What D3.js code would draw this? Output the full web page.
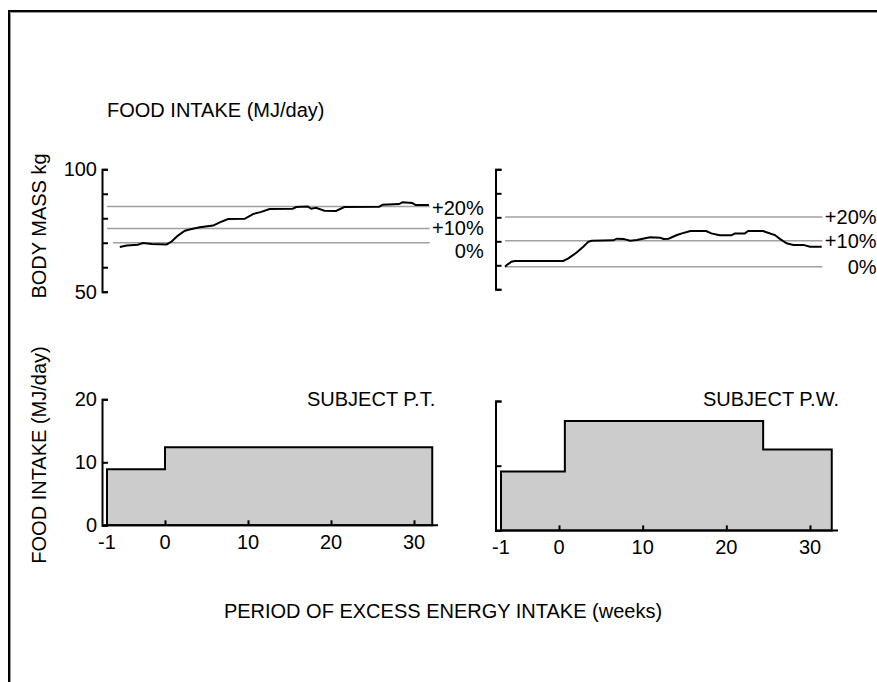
<!DOCTYPE html>
<html>
<head>
<meta charset="utf-8">
<script src="https://d3js.org/d3.v7.min.js"></script>
<style>
  body { margin: 0; background: #fff; }
  svg text { font-family: "Liberation Sans", Arial, sans-serif; font-size: 20px; fill: #000; }
</style>
</head>
<body>
<svg id="chart" width="877" height="682"></svg>
<script>
// tick values shared by both subjects
const weekTicks = [-1, 0, 10, 20, 30];
const massTicks = [50, 60, 70, 80, 90, 100];
const massLabels = [50, 100];
const intakeTicks = [0, 10, 20];
const intakeLabels = [0, 10, 20];
const refLabels = ["0%", "+10%", "+20%"];

// subject P.T. (left)
const weeksPT = [-0.78, -0.66, -0.47, -0.38, -0.23, 0.2, 0.8, 1.56, 2.4, 3.2, 4.2, 5.8, 6.6, 7.6, 9.6, 10.6,
  11.6, 12.6, 15.4, 15.8, 17.2, 17.6, 18.2, 19.2, 20.6, 21.6, 25.8, 26.2, 28.2, 28.6, 29.8, 30.2, 31.8];
const massPT = [68.3, 68.9, 69.2, 69.9, 69.5, 69.3, 70.5, 72.9, 74.9, 75.6, 76.3, 77.0, 78.3, 79.7, 79.8, 81.7,
  82.6, 83.8, 83.9, 84.6, 84.8, 83.9, 84.3, 83.1, 83.0, 84.6, 84.7, 85.5, 85.8, 86.5, 86.2, 85.4, 85.4];
const refPT = [70, 75.8, 84.8];
const stepWeeksPT = [-1, 0, 32.2];
const intakePT = [8.9, 12.4];

// subject P.W. (right)
const weeksPW = [-0.93, -0.9, -0.82, -0.76, 0.51, 1.11, 2.11, 2.9, 3.5, 3.9, 6.5, 6.9, 7.7, 8.5, 9.3, 10.3,
  10.9, 12.1, 12.5, 13.1, 14.1, 14.7, 15.7, 17.6, 18.2, 19.2, 20.6, 21.0, 22.2, 22.6, 24.4, 24.8, 25.8,
  26.4, 27.2, 28.0, 29.2, 30.0, 31.4];
const massPW = [59.4, 60.1, 61.5, 61.8, 61.8, 62.9, 65.3, 67.75, 69.8, 70.25, 70.4, 71.1, 71.0, 70.25, 70.5, 71.25,
  71.7, 71.5, 71.0, 71.1, 72.6, 73.3, 74.3, 74.3, 73.3, 72.5, 72.5, 73.2, 73.2, 74.3, 74.3, 73.75, 72.6,
  71.0, 69.2, 68.5, 68.5, 67.75, 67.75];
const refPW = [59.4, 70.25, 80.1];
const stepWeeksPW = [-1, 0.7, 24.4, 32.6];
const intakePW = [9.1, 16.9, 12.5];

const svg = d3.select("#chart");

// page frame
svg.append("path")
  .attr("d", "M9,682V11H877")
  .attr("fill", "none")
  .attr("stroke", "#000")
  .attr("stroke-width", 2);
svg.append("path")
  .attr("d", "M10.5,682V12.5H877")
  .attr("fill", "none")
  .attr("stroke", "#999")
  .attr("stroke-width", 1);

const panels = [
  {
    name: "SUBJECT P.T.", weeks: weeksPT, mass: massPT, ref: refPT,
    stepWeeks: stepWeeksPT, intake: intakePT,
    axisX: 102, xRange: [107, 165, 414], axisEnd: 438,
    massRange: [291.7, 169.3], intakeRange: [525.3, 399.3],
    refSpan: [[-0.9, 31.9], [-1, 31.9], [-1, 31.9]], labelDy: [8, -1, 1],
    showLabels: true, nameX: 307
  },
  {
    name: "SUBJECT P.W.", weeks: weeksPW, mass: massPW, ref: refPW,
    stepWeeks: stepWeeksPW, intake: intakePW,
    axisX: 495.5, xRange: [501, 559, 810], axisEnd: 838,
    massRange: [289.3, 169.3], intakeRange: [530.4, 401],
    refSpan: [[-0.93, 31.5], [-0.93, 31.5], [-0.93, 31.5]], labelDy: [0, 0, 0],
    showLabels: false, nameX: 703
  }
];

const axisStyle = (g) => {
  g.select(".domain").attr("stroke", "#000").attr("stroke-width", 2);
  g.selectAll(".tick line").attr("stroke", "#000").attr("stroke-width", 2);
  g.selectAll(".tick text").remove();
};

panels.forEach((p) => {
  const x = d3.scaleLinear().domain([-1, 0, 30]).range(p.xRange);
  const yMass = d3.scaleLinear().domain([50, 100]).range(p.massRange);
  const yIntake = d3.scaleLinear().domain([0, 20]).range(p.intakeRange);

  // ---- body mass panel ----
  svg.append("g")
    .attr("transform", `translate(${p.axisX},0)`)
    .call(d3.axisRight(yMass).tickValues(massTicks).tickSize(6).tickSizeOuter(6))
    .call(axisStyle);

  if (p.showLabels) {
    svg.append("g").selectAll("text")
      .data(massLabels)
      .join("text")
      .attr("x", p.axisX - 5)
      .attr("y", d => yMass(d))
      .attr("dy", "0.35em")
      .attr("text-anchor", "end")
      .text(d => d);
  }

  const refG = svg.append("g");
  refG.selectAll("line")
    .data(p.ref)
    .join("line")
    .attr("x1", (d, i) => x(p.refSpan[i][0]))
    .attr("x2", (d, i) => x(p.refSpan[i][1]))
    .attr("y1", d => yMass(d))
    .attr("y2", d => yMass(d))
    .attr("stroke", "#a0a0a0")
    .attr("stroke-width", 1.5);
  // labels right-aligned just past the end of the lines
  refG.selectAll("text")
    .data(p.ref)
    .join("text")
    .attr("x", (d, i) => x(p.refSpan[i][1]) + 54)
    .attr("y", (d, i) => yMass(d) + p.labelDy[i])
    .attr("dy", "0.35em")
    .attr("text-anchor", "end")
    .text((d, i) => refLabels[i]);

  const massLine = d3.line()
    .x(d => x(d[0]))
    .y(d => yMass(d[1]));
  svg.append("path")
    .datum(p.weeks.map((w, i) => [w, p.mass[i]]))
    .attr("d", massLine)
    .attr("fill", "none")
    .attr("stroke", "#000")
    .attr("stroke-width", 2);

  // ---- food intake panel ----
  const steps = p.stepWeeks.map((w, i) => [w, p.intake[Math.min(i, p.intake.length - 1)]]);
  const area = d3.area()
    .curve(d3.curveStepAfter)
    .x(d => x(d[0]))
    .y0(yIntake(0))
    .y1(d => yIntake(d[1]));
  svg.append("path")
    .datum(steps)
    .attr("d", area)
    .attr("fill", "#cccccc")
    .attr("stroke", "#000")
    .attr("stroke-width", 2);

  svg.append("g")
    .attr("transform", `translate(${p.axisX},0)`)
    .call(d3.axisRight(yIntake).tickValues(intakeTicks).tickSize(6).tickSizeOuter(6))
    .call(axisStyle);

  if (p.showLabels) {
    svg.append("g").selectAll("text")
      .data(intakeLabels)
      .join("text")
      .attr("x", p.axisX - 5)
      .attr("y", d => yIntake(d))
      .attr("dy", "0.35em")
      .attr("text-anchor", "end")
      .text(d => d);
  }

  // x axis: baseline from the y axis, ticks pointing up
  svg.append("line")
    .attr("x1", p.axisX)
    .attr("x2", p.axisEnd)
    .attr("y1", yIntake(0))
    .attr("y2", yIntake(0))
    .attr("stroke", "#000")
    .attr("stroke-width", 2);
  svg.append("g")
    .attr("transform", `translate(0,${yIntake(0)})`)
    .call(d3.axisTop(x).tickValues(weekTicks.slice(1)).tickSize(5).tickSizeOuter(0))
    .call(axisStyle)
    .call(g => g.select(".domain").remove());

  svg.append("g").selectAll("text")
    .data(weekTicks)
    .join("text")
    .attr("x", d => x(d))
    .attr("y", yIntake(0) + 24)
    .attr("text-anchor", "middle")
    .text(d => d);

  svg.append("text")
    .attr("x", p.nameX)
    .attr("y", 406)
    .text(p.name);
});

// titles
svg.append("text")
  .attr("x", 107)
  .attr("y", 117)
  .text("FOOD INTAKE (MJ/day)");

svg.append("text")
  .attr("transform", "translate(46,226) rotate(-90)")
  .attr("text-anchor", "middle")
  .text("BODY MASS kg");

svg.append("text")
  .attr("transform", "translate(46,455) rotate(-90)")
  .attr("text-anchor", "middle")
  .text("FOOD INTAKE (MJ/day)");

svg.append("text")
  .attr("x", 443)
  .attr("y", 618)
  .attr("text-anchor", "middle")
  .text("PERIOD OF EXCESS ENERGY INTAKE (weeks)");
</script>
</body>
</html>
